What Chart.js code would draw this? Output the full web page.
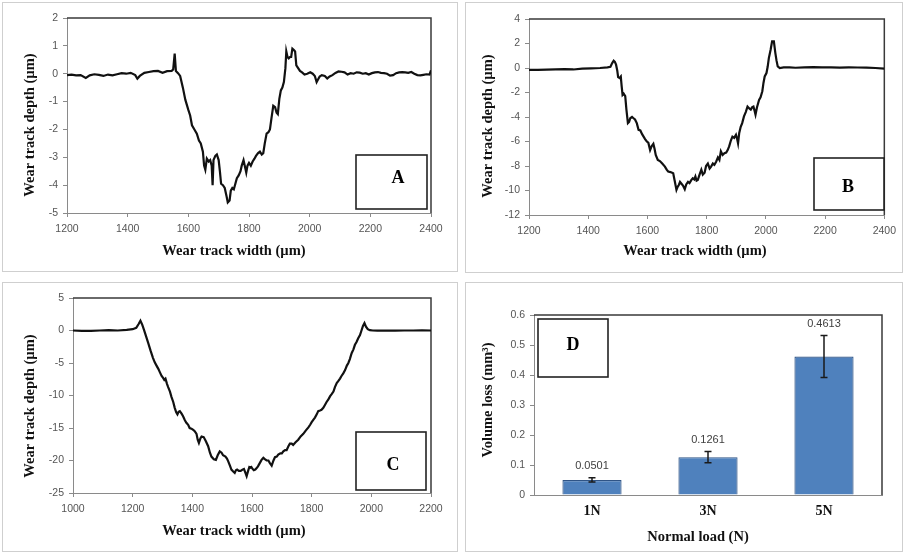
<!DOCTYPE html>
<html><head><meta charset="utf-8">
<script src="https://cdn.jsdelivr.net/npm/chart.js@4.4.0/dist/chart.umd.min.js"></script>
<style>
html,body{margin:0;padding:0;background:#fff;}
body{width:904px;height:554px;position:relative;overflow:hidden;}
.panel{position:absolute;border:1px solid #cfcfcf;box-sizing:border-box;background:#fff;}
.panel canvas{position:absolute;left:0;top:0;}
</style></head><body>
<div class="panel" style="left:2px;top:2px;width:456px;height:270px"><canvas id="cA" width="454" height="268" style="width:454px;height:268px"></canvas></div>
<div class="panel" style="left:465px;top:2px;width:438px;height:271px"><canvas id="cB" width="436" height="269" style="width:436px;height:269px"></canvas></div>
<div class="panel" style="left:2px;top:282px;width:456px;height:270px"><canvas id="cC" width="454" height="268" style="width:454px;height:268px"></canvas></div>
<div class="panel" style="left:465px;top:282px;width:438px;height:270px"><canvas id="cD" width="436" height="268" style="width:436px;height:268px"></canvas></div>
<script>
// ---------- DATA ----------
// Panel A (1 N)
const widthA = [
 1200,1215,1230,1245,1262,1275,1290,1305,1320,1335,
 1350,1365,1380,1395,1410,1425,1432,1440,1455,1470,
 1485,1500,1515,1530,1545,1550,1555,1559,1566,1573,
 1582,1590,1600,1606,1612,1620,1628,1635,1641,1648,
 1652,1656,1661,1667,1672,1677,1680,1683,1689,1694,
 1700,1704,1708,1714,1720,1726,1730,1736,1740,1745,
 1750,1755,1760,1766,1772,1776,1782,1786,1791,1795,
 1800,1806,1812,1818,1823,1830,1836,1842,1847,1852,
 1858,1864,1869,1874,1880,1886,1891,1895,1900,1905,
 1910,1915,1920,1923,1927,1931,1935,1939,1943,1948,
 1952,1956,1962,1968,1975,1983,1992,2002,2010,2017,
 2023,2028,2033,2040,2050,2058,2066,2075,2085,2095,
 2105,2115,2125,2135,2145,2155,2165,2175,2185,2195,
 2205,2215,2225,2235,2245,2255,2265,2275,2285,2295,
 2305,2315,2325,2335,2345,2355,2365,2375,2385,2395,
 2400];
const depthA = [
 -0.05,-0.03,-0.06,-0.05,-0.15,-0.06,-0.02,-0.04,-0.08,-0.03,
 -0.06,-0.02,0.02,0.0,0.03,-0.05,-0.18,-0.08,0.03,0.06,
 0.09,0.1,0.03,0.09,0.1,0.15,0.72,0.1,0.02,-0.08,
 -0.5,-0.93,-1.3,-1.5,-1.85,-2.0,-2.15,-2.4,-2.5,-2.8,
 -3.3,-3.45,-3.05,-3.15,-3.1,-3.3,-4.0,-3.1,-2.95,-2.9,
 -3.1,-3.5,-3.95,-4.0,-4.1,-4.4,-4.62,-4.55,-4.2,-4.1,
 -4.15,-3.95,-3.75,-3.65,-3.5,-3.3,-3.1,-3.3,-3.55,-3.3,
 -3.2,-3.3,-3.15,-3.05,-2.95,-2.85,-2.8,-2.9,-2.85,-2.5,
 -2.15,-2.1,-2.0,-1.6,-1.15,-1.2,-1.4,-1.45,-0.9,-0.6,
 -0.5,-0.3,0.2,0.8,0.6,0.55,0.6,0.6,0.9,0.85,
 0.8,0.3,0.2,0.1,0.05,-0.03,0.0,0.05,0.0,-0.08,
 -0.3,-0.2,-0.1,-0.05,-0.08,-0.17,-0.1,-0.05,0.03,0.08,
 0.07,0.05,-0.03,0.02,0.0,0.05,0.04,0.0,0.02,-0.03,
 0.02,0.05,0.06,0.03,0.02,0.0,-0.07,-0.05,0.02,0.05,
 0.06,0.05,0.03,0.06,0.0,-0.05,-0.06,-0.04,-0.02,-0.03,
 0.12];

// Panel B (3 N)
const widthB = [
 1200,1230,1260,1290,1320,1350,1380,1410,1440,1465,
 1475,1481,1486,1490,1494,1498,1501,1506,1510,1513,
 1516,1520,1525,1529,1534,1538,1542,1548,1553,1558,
 1564,1570,1576,1582,1587,1592,1598,1603,1609,1614,
 1620,1624,1628,1635,1642,1650,1659,1665,1670,1678,
 1687,1692,1698,1702,1706,1710,1715,1720,1726,1731,
 1737,1742,1748,1753,1758,1762,1766,1770,1776,1782,
 1787,1793,1798,1804,1810,1815,1821,1826,1832,1838,
 1843,1848,1854,1860,1866,1871,1876,1882,1887,1893,
 1899,1903,1906,1910,1915,1920,1926,1932,1938,1944,
 1949,1954,1958,1962,1965,1970,1977,1982,1988,1992,
 1996,2002,2006,2010,2016,2021,2027,2032,2036,2040,
 2047,2060,2080,2100,2130,2160,2190,2220,2250,2280,
 2310,2340,2370,2400];
const depthB = [
 -0.15,-0.15,-0.13,-0.12,-0.1,-0.12,-0.05,-0.03,0.0,0.05,
 0.1,0.4,0.59,0.5,0.27,-0.2,-0.74,-0.82,-0.7,-1.5,
 -2.2,-2.1,-2.3,-3.4,-4.5,-4.4,-4.1,-4.0,-4.1,-4.2,
 -4.5,-5.05,-5.1,-5.4,-5.6,-5.8,-6.0,-6.1,-6.7,-6.4,
 -6.2,-6.6,-7.1,-7.5,-7.6,-7.8,-8.05,-8.3,-8.45,-8.5,
 -8.6,-9.2,-9.95,-9.7,-9.55,-9.3,-9.45,-9.6,-9.9,-9.5,
 -9.3,-9.4,-9.15,-9.0,-9.1,-8.85,-9.2,-9.15,-8.7,-8.3,
 -8.7,-8.55,-8.0,-7.8,-8.2,-8.05,-7.8,-7.9,-7.65,-7.3,
 -7.5,-6.8,-7.1,-6.95,-6.9,-6.7,-6.4,-5.9,-5.6,-5.7,
 -5.45,-5.8,-6.15,-5.3,-4.8,-4.5,-3.95,-3.6,-3.15,-3.3,
 -3.4,-3.2,-3.15,-3.5,-3.8,-3.2,-2.6,-2.4,-1.9,-1.2,
 -0.69,-0.41,0.1,0.81,1.49,2.17,2.17,1.22,0.6,0.13,
 0.0,0.05,0.05,0.02,0.05,0.07,0.05,0.05,0.03,0.05,
 0.04,0.03,0.0,-0.05];

// Panel C (5 N)
const widthC = [
 1000,1030,1060,1090,1120,1150,1180,1200,1212,1220,
 1226,1232,1238,1245,1252,1260,1268,1274,1280,1286,
 1291,1297,1302,1306,1310,1315,1319,1325,1330,1336,
 1341,1346,1350,1354,1358,1364,1369,1375,1380,1386,
 1391,1397,1403,1408,1414,1418,1422,1427,1431,1438,
 1445,1453,1459,1464,1472,1479,1485,1492,1498,1503,
 1511,1516,1520,1526,1531,1537,1542,1546,1550,1556,
 1562,1568,1573,1578,1582,1587,1591,1595,1598,1602,
 1606,1611,1615,1620,1626,1632,1638,1643,1649,1655,
 1660,1666,1672,1677,1683,1688,1695,1700,1705,1711,
 1716,1722,1727,1733,1738,1746,1755,1763,1772,1780,
 1789,1795,1800,1806,1811,1817,1822,1828,1833,1839,
 1844,1850,1856,1862,1867,1873,1878,1884,1889,1895,
 1900,1906,1912,1918,1923,1928,1934,1940,1945,1950,
 1956,1962,1967,1972,1977,1982,1988,1995,2005,2020,
 2050,2080,2110,2140,2170,2200];
const depthC = [
 0.0,-0.05,-0.05,0.0,0.05,0.0,0.1,0.2,0.4,1.0,
 1.5,0.9,0.1,-0.9,-1.9,-3.1,-4.2,-4.9,-5.4,-5.9,
 -6.4,-7.0,-7.3,-7.6,-7.4,-8.2,-8.7,-9.4,-10.2,-11.0,
 -11.9,-12.6,-12.9,-12.5,-12.4,-12.8,-13.2,-13.8,-14.2,-14.5,
 -15.0,-15.1,-15.3,-15.5,-15.9,-16.8,-17.3,-16.6,-16.3,-16.4,
 -17.0,-17.8,-18.8,-19.4,-19.8,-19.9,-19.2,-18.6,-18.8,-19.2,
 -19.4,-19.7,-20.1,-20.8,-21.4,-21.7,-21.9,-21.5,-21.4,-21.6,
 -21.6,-21.4,-21.3,-21.9,-22.4,-21.6,-21.0,-21.1,-21.0,-21.3,
 -21.5,-21.4,-21.2,-20.9,-20.4,-19.9,-19.6,-19.8,-20.0,-20.0,
 -20.4,-20.8,-20.0,-19.5,-19.4,-19.1,-18.9,-18.9,-18.6,-18.4,
 -18.4,-17.8,-17.4,-17.4,-17.6,-17.2,-16.8,-16.3,-15.9,-15.4,
 -14.9,-14.5,-14.1,-13.7,-13.4,-12.9,-12.4,-12.3,-12.2,-11.9,
 -11.5,-11.0,-10.6,-10.1,-9.8,-9.4,-8.7,-8.1,-7.8,-7.4,
 -7.0,-6.6,-6.1,-5.4,-5.0,-4.4,-3.5,-2.9,-2.2,-1.8,
 -1.2,-0.7,0.0,0.7,1.15,0.6,0.2,0.05,0.0,-0.02,
 0.0,-0.02,0.0,0.0,0.02,0.0];

// Panel D (volume loss)
const loads = ['1N', '3N', '5N'];
const volumeLoss = [0.0501, 0.1261, 0.4613];
const volumeErr = [0.007, 0.019, 0.07];

// ---------- PLUGINS ----------
const framePlugin = {
  id: 'frame',
  beforeDatasetsDraw(chart, args, opts) {
    const {ctx, chartArea: a} = chart;
    ctx.save();
    ctx.strokeStyle = opts.color || '#3f3f3f';
    ctx.lineWidth = opts.width || 1.5;
    ctx.beginPath();
    ctx.moveTo(a.left, a.top);
    ctx.lineTo(a.right, a.top);
    ctx.lineTo(a.right, a.bottom);
    ctx.stroke();
    ctx.restore();
  }
};
const titlesPlugin = {
  id: 'axisTitles',
  afterDraw(chart, args, opts) {
    const ctx = chart.ctx;
    ctx.save();
    ctx.fillStyle = '#111';
    ctx.font = opts.font;
    ctx.textAlign = 'center';
    ctx.textBaseline = 'middle';
    if (opts.x) ctx.fillText(opts.x.text, opts.x.cx, opts.x.cy);
    if (opts.y) {
      ctx.translate(opts.y.cx, opts.y.cy);
      ctx.rotate(-Math.PI / 2);
      ctx.fillText(opts.y.text, 0, 0);
    }
    ctx.restore();
  }
};
const labelPlugin = {
  id: 'panelLabel',
  afterDraw(chart, args, o) {
    const ctx = chart.ctx;
    ctx.save();
    ctx.fillStyle = '#fff';
    ctx.fillRect(o.x, o.y, o.w, o.h);
    ctx.strokeStyle = '#222';
    ctx.lineWidth = 1.6;
    ctx.strokeRect(o.x, o.y, o.w, o.h);
    ctx.fillStyle = '#000';
    ctx.font = 'bold 18px "Liberation Serif"';
    ctx.textAlign = 'center';
    ctx.textBaseline = 'middle';
    ctx.fillText(o.text, o.tx, o.ty);
    ctx.restore();
  }
};
const errorPlugin = {
  id: 'errBars',
  afterDatasetsDraw(chart, args, o) {
    const ctx = chart.ctx;
    const ys = chart.scales.y;
    const meta = chart.getDatasetMeta(0);
    ctx.save();
    meta.data.forEach((el, i) => {
      const v = volumeLoss[i], e = volumeErr[i];
      const yt = ys.getPixelForValue(v + e);
      const yb = ys.getPixelForValue(v - e);
      ctx.strokeStyle = '#1a1a1a';
      ctx.lineWidth = 1.5;
      ctx.beginPath();
      ctx.moveTo(el.x, yt); ctx.lineTo(el.x, yb);
      ctx.moveTo(el.x - 3.5, yt); ctx.lineTo(el.x + 3.5, yt);
      ctx.moveTo(el.x - 3.5, yb); ctx.lineTo(el.x + 3.5, yb);
      ctx.stroke();
      ctx.fillStyle = '#404040';
      ctx.font = '11px "Liberation Sans"';
      ctx.textAlign = 'center';
      ctx.textBaseline = 'middle';
      ctx.fillText(String(v), el.x, yt - 12);
    });
    ctx.restore();
  }
};

const tickFont = {family: 'Liberation Sans', size: 10.5};
const tickColor = '#555555';
const gridStyle = {drawOnChartArea: false, drawTicks: true, tickLength: 4, color: '#8a8a8a', lineWidth: 1};
const borderStyle = {display: true, color: '#8a8a8a', width: 1};
const titleFont = 'bold 14.5px "Liberation Serif"';

function makeProfile(id, xs, ys, xMin, xMax, yMin, yMax, yStep, L) {
  const pts = xs.map((x, i) => ({x: x, y: ys[i]}));
  return new Chart(document.getElementById(id), {
    type: 'line',
    data: {datasets: [{data: pts, borderColor: '#111', borderWidth: 2.2, pointRadius: 0, tension: 0, fill: false}]},
    options: {
      responsive: false, animation: false, devicePixelRatio: 1,
      layout: {padding: L.padding},
      plugins: {
        legend: {display: false}, tooltip: {enabled: false},
        frame: {color: '#3a3a3a', width: 1.5},
        axisTitles: {font: titleFont, x: L.xTitle, y: L.yTitle},
        panelLabel: L.label
      },
      scales: {
        x: {type: 'linear', min: xMin, max: xMax,
            ticks: {stepSize: 200, font: tickFont, color: tickColor, padding: 6, maxRotation: 0, callback: v => String(v)},
            grid: gridStyle, border: borderStyle,
            afterFit: s => { s.height = L.xH; }},
        y: {type: 'linear', min: yMin, max: yMax,
            ticks: {stepSize: yStep, font: tickFont, color: tickColor, padding: 5, callback: v => String(v)},
            grid: gridStyle, border: borderStyle,
            afterFit: s => { s.width = L.yW; }}
      }
    },
    plugins: [framePlugin, titlesPlugin, labelPlugin]
  });
}

makeProfile('cA', widthA, depthA, 1200, 2400, -5, 2, 1, {
  padding: {left: 0, top: 15, right: 26, bottom: 0}, yW: 64, xH: 58,
  xTitle: {text: 'Wear track width (µm)', cx: 231, cy: 248},
  yTitle: {text: 'Wear track depth (µm)', cx: 27, cy: 122},
  label: {text: 'A', x: 353, y: 152, w: 71, h: 54, tx: 395, ty: 175}
});
makeProfile('cB', widthB, depthB, 1200, 2400, -12, 4, 2, {
  padding: {left: 0, top: 16, right: 14, bottom: 0}, yW: 63, xH: 57,
  xTitle: {text: 'Wear track width (µm)', cx: 229, cy: 248},
  yTitle: {text: 'Wear track depth (µm)', cx: 22, cy: 123},
  label: {text: 'B', x: 348, y: 155, w: 70, h: 52, tx: 382, ty: 184}
});
makeProfile('cC', widthC, depthC, 1000, 2200, -25, 5, 5, {
  padding: {left: 0, top: 15, right: 26, bottom: 0}, yW: 70, xH: 58,
  xTitle: {text: 'Wear track width (µm)', cx: 231, cy: 248},
  yTitle: {text: 'Wear track depth (µm)', cx: 27, cy: 123},
  label: {text: 'C', x: 353, y: 149, w: 70, h: 58, tx: 390, ty: 182}
});

new Chart(document.getElementById('cD'), {
  type: 'bar',
  data: {labels: loads, datasets: [{data: volumeLoss, backgroundColor: '#4f81bd', borderColor: '#2f5486', borderWidth: 1.2,
    barPercentage: 0.51, categoryPercentage: 1.0}]},
  options: {
    responsive: false, animation: false, devicePixelRatio: 1,
    layout: {padding: {left: 0, top: 32, right: 20, bottom: 0}},
    plugins: {
      legend: {display: false}, tooltip: {enabled: false},
      frame: {color: '#3a3a3a', width: 1.5},
      axisTitles: {font: titleFont, x: {text: 'Normal load (N)', cx: 232, cy: 254}, y: {text: 'Volume loss (mm³)', cx: 22, cy: 117}},
      panelLabel: {text: 'D', x: 72, y: 36, w: 70, h: 58, tx: 107, ty: 62}
    },
    scales: {
      x: {ticks: {font: {family: 'Liberation Serif', size: 14, weight: 'bold'}, color: '#111', padding: 8},
          grid: {drawOnChartArea: false, drawTicks: false, color: '#8a8a8a'}, border: borderStyle,
          afterFit: s => { s.height = 56; }},
      y: {min: 0, max: 0.6, ticks: {stepSize: 0.1, font: tickFont, color: tickColor, padding: 5},
          grid: gridStyle, border: borderStyle,
          afterFit: s => { s.width = 68; }}
    }
  },
  plugins: [framePlugin, titlesPlugin, labelPlugin, errorPlugin]
});
</script>
</body></html>
